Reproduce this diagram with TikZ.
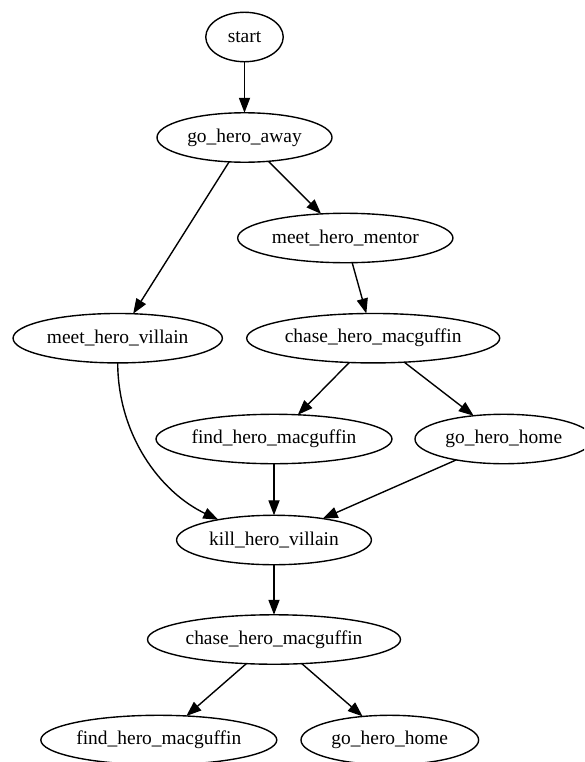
\documentclass[tikz,border=0pt]{standalone}
\usepackage{fontspec}
\setmainfont{Liberation Serif}
\usetikzlibrary{arrows.meta,shapes.geometric}
\begin{document}
\begin{tikzpicture}[x=0.72pt,y=-0.72pt,
  gv/.style={ellipse, draw=black, line width=1pt, fill=white, inner sep=0pt, outer sep=0pt,
    minimum height=35.6pt, font=\fontsize{14pt}{16pt}\selectfont, text=black},
  conn/.style={draw=black, line width=1pt, -{Triangle[length=10.8pt,width=8pt]}}]
\useasboundingbox (0,0) rectangle (584,762);
\clip (0,0) rectangle (584,762);
\node[gv, minimum width=55.8pt]  (start)   at (244.5,37)    {start};
\node[gv, minimum width=126pt]   (away)    at (244.5,137.5) {go\_hero\_away};
\node[gv, minimum width=155pt]   (mentor)  at (345.3,238)   {meet\_hero\_mentor};
\node[gv, minimum width=150.7pt] (villain) at (117.7,338.2) {meet\_hero\_villain};
\node[gv, minimum width=182.2pt] (chaseA)  at (373.2,338.2) {chase\_hero\_macguffin};
\node[gv, minimum width=169.9pt] (findA)   at (274,439)     {find\_hero\_macguffin};
\node[gv, minimum width=127.9pt] (homeA)   at (503.8,439)   {go\_hero\_home};
\node[gv, minimum width=140.3pt] (kill)    at (274,540)     {kill\_hero\_villain};
\node[gv, minimum width=182.2pt] (chaseB)  at (274,639.5)   {chase\_hero\_macguffin};
\node[gv, minimum width=169.9pt] (findB)   at (158.8,740)   {find\_hero\_macguffin};
\node[gv, minimum width=127.9pt] (homeB)   at (389.8,740)   {go\_hero\_home};

\draw[conn] (start) -- (away);
\draw[conn] (away) -- (villain);
\draw[conn] (away) -- (mentor);
\draw[conn] (mentor) -- (chaseA);
\draw[conn] (chaseA) -- (findA);
\draw[conn] (chaseA) -- (homeA);
\draw[conn] (villain.south) .. controls (118,435) and (160,492) .. (kill.160);
\draw[conn] (findA) -- (kill);
\draw[conn] (homeA) -- (kill);
\draw[conn] (kill) -- (chaseB);
\draw[conn] (chaseB) -- (findB);
\draw[conn] (chaseB) -- (homeB);
\end{tikzpicture}
\end{document}
